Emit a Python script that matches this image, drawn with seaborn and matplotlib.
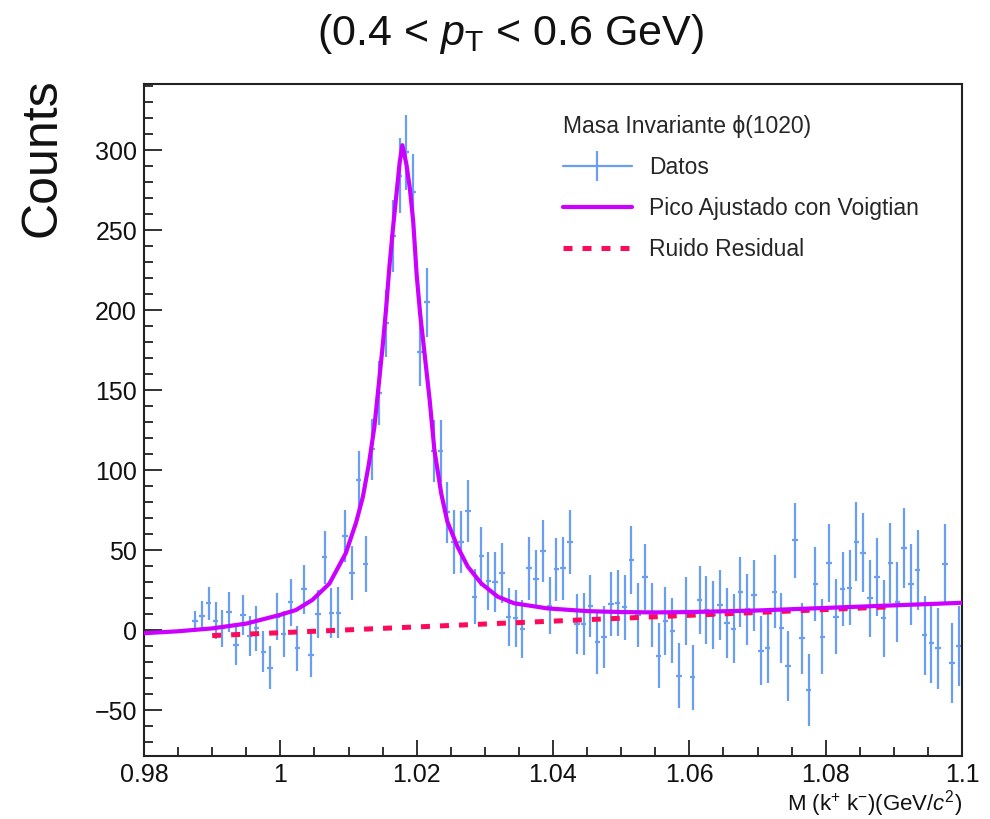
import numpy as np
import pandas as pd
import matplotlib
matplotlib.use("Agg")
import matplotlib.pyplot as plt
from matplotlib.lines import Line2D
from matplotlib.ticker import MultipleLocator, FixedLocator
import seaborn as sns

# ---------------------------
# Data
# ---------------------------
mass = [
    0.9875, 0.9885, 0.9895, 0.9905, 0.9915, 0.9925, 0.9935, 0.9945, 0.9955, 0.9965,
    0.9975, 0.9985, 0.9995, 1.0005, 1.0015, 1.0025, 1.0035, 1.0045, 1.0055, 1.0065,
    1.0075, 1.0085, 1.0095, 1.0105, 1.0115, 1.0125, 1.0135, 1.0145, 1.0155, 1.0165,
    1.0175, 1.0185, 1.0195, 1.0205, 1.0215, 1.0225, 1.0235, 1.0245, 1.0255, 1.0265,
    1.0275, 1.0285, 1.0295, 1.0305, 1.0315, 1.0325, 1.0335, 1.0345, 1.0355, 1.0365,
    1.0375, 1.0385, 1.0395, 1.0405, 1.0415, 1.0425, 1.0435, 1.0445, 1.0455, 1.0465,
    1.0475, 1.0485, 1.0495, 1.0505, 1.0515, 1.0525, 1.0535, 1.0545, 1.0555, 1.0565,
    1.0575, 1.0585, 1.0595, 1.0605, 1.0615, 1.0625, 1.0635, 1.0645, 1.0655, 1.0665,
    1.0675, 1.0685, 1.0695, 1.0705, 1.0715, 1.0725, 1.0735, 1.0745, 1.0755, 1.0765,
    1.0775, 1.0785, 1.0795, 1.0805, 1.0815, 1.0825, 1.0835, 1.0845, 1.0855, 1.0865,
    1.0875, 1.0885, 1.0895, 1.0905, 1.0915, 1.0925, 1.0935, 1.0945, 1.0955, 1.0965,
    1.0975, 1.0985, 1.0995,
]
counts = [
    5.6, 9.0, 16.7, 5.8, 1.0, 11.0, -9.4, 9.4, -4.0, 1.0,
    -13.5, -23.5, 8.3, -2.5, 17.3, -11.5, 25.4, -15.6, 9.8, 45.4,
    10.4, 10.8, 58.8, 35.4, 94.0, 41.5, 113.0, 148.0, 191.7, 246.5,
    284.0, 298.5, 274.0, 173.5, 204.8, 112.0, 112.0, 73.5, 55.0, 55.0,
    74.6, 20.8, 46.0, 30.6, 30.0, 35.4, 7.9, 7.3, 0.6, 38.5,
    31.7, 49.6, 15.2, 38.0, 38.5, 54.8, 3.8, 3.8, 15.0, -7.7,
    -4.2, 16.3, 16.7, 14.2, 43.8, 9.4, 33.3, 9.6, -16.0, 5.8,
    -0.4, -28.5, 12.0, -29.6, 19.0, 12.5, 9.4, 15.6, 4.2, 0.8,
    23.8, 13.0, 21.7, -13.0, -11.5, 24.0, 1.0, -22.3, 56.0, -5.2,
    -37.5, 29.0, -4.2, 41.7, 8.3, 25.6, 26.5, 55.2, 48.3, 19.8,
    33.3, 7.3, 42.0, 17.5, 51.0, 28.5, 37.5, -3.3, -8.3, -11.5,
    41.0, -20.6, -10.0,
]
errors = [
    6.0, 9.2, 10.4, 11.7, 11.7, 12.5, 12.5, 12.3, 12.5, 14.0,
    13.0, 13.5, 14.6, 14.4, 14.8, 14.0, 15.4, 14.0, 15.0, 16.7,
    15.6, 16.0, 16.3, 16.9, 18.0, 17.5, 19.0, 20.0, 21.0, 22.5,
    23.4, 23.4, 23.4, 21.3, 21.5, 19.5, 19.5, 19.3, 20.0, 19.5,
    19.3, 17.2, 18.2, 18.2, 18.8, 18.8, 18.2, 18.0, 18.0, 19.8,
    18.2, 19.3, 17.7, 19.6, 19.8, 20.0, 19.0, 19.2, 19.6, 19.5,
    19.5, 19.8, 20.6, 20.3, 21.0, 20.2, 20.5, 20.0, 20.3, 21.3,
    20.4, 20.3, 21.3, 20.3, 21.3, 21.3, 21.4, 21.9, 21.9, 21.7,
    21.9, 22.2, 22.1, 21.6, 21.9, 22.6, 21.9, 21.9, 23.4, 22.1,
    22.2, 23.1, 23.4, 24.3, 23.3, 23.4, 23.2, 24.7, 24.8, 24.0,
    24.5, 24.0, 25.0, 24.7, 25.0, 25.2, 25.0, 24.7, 25.0, 25.3,
    25.2, 25.2, 25.2,
]

# Voigtian fit curve
fit_mass = [
    0.980, 0.985, 0.990, 0.995, 1.000, 1.0023, 1.0047, 1.0072, 1.0096, 1.0111,
    1.0121, 1.0130, 1.0138, 1.0145, 1.0150, 1.0155, 1.0160, 1.0165, 1.0170, 1.0175,
    1.0179, 1.0185, 1.0190, 1.0195, 1.0200, 1.0205, 1.0211, 1.0219, 1.0226, 1.0236,
    1.0245, 1.0260, 1.0275, 1.0295, 1.0319, 1.0343, 1.0392, 1.045, 1.050, 1.055,
    1.060, 1.070, 1.080, 1.090, 1.100,
]
fit_counts = [
    -2.0, -0.8, 1.0, 4.0, 9.5, 12.5, 18.8, 29.0, 48.0, 67.0,
    83.0, 104.0, 127.0, 156.0, 177.0, 200.0, 227.0, 250.0, 271.0, 292.0,
    303.0, 291.0, 276.0, 255.0, 222.0, 198.0, 175.0, 144.0, 112.5, 85.4,
    67.7, 52.0, 39.6, 29.0, 20.8, 16.7, 13.5, 11.8, 11.2, 11.0,
    11.2, 12.2, 13.8, 15.4, 17.0,
]

# residual background line
bkg_mass = [0.990, 1.090]
bkg_counts = [-3.5, 14.6]

data_color = "#6a9ef2"
fit_color = "#cc00ff"
bkg_color = "#ff0a5a"

# ---------------------------
# Style
# ---------------------------
sns.set_theme(style="ticks")
plt.rcParams["font.family"] = ["Liberation Sans", "DejaVu Sans"]
plt.rcParams["mathtext.fontset"] = "custom"
plt.rcParams["mathtext.rm"] = "Liberation Sans"
plt.rcParams["mathtext.it"] = "Liberation Sans:italic"

fig = plt.figure(figsize=(9.9, 8.19), dpi=100)
ax = fig.add_axes([144 / 990, 1 - 756 / 819, (962 - 144) / 990, (756 - 84) / 819])

# data points with error bars
ax.errorbar(mass, counts, yerr=errors, xerr=0.0004, fmt="none",
            ecolor=data_color, elinewidth=1.6, capsize=0, zorder=2)

# background and fit curves
bkg = pd.DataFrame({"mass": bkg_mass, "counts": bkg_counts})
fit = pd.DataFrame({"mass": fit_mass, "counts": fit_counts})
sns.lineplot(data=bkg, x="mass", y="counts", ax=ax, color=bkg_color,
             lw=3.6, zorder=3)
ax.lines[-1].set_dashes([1.8, 2.0])
sns.lineplot(data=fit, x="mass", y="counts", ax=ax, color=fit_color,
             lw=3.0, zorder=4, sort=False)

ax.set_xlim(0.98, 1.1)
ax.set_ylim(-78.75, 341.25)
ax.set_xlabel("")
ax.set_ylabel("")

ax.xaxis.set_major_locator(FixedLocator([0.98, 1.0, 1.02, 1.04, 1.06, 1.08, 1.1]))
ax.set_xticklabels(["0.98", "1", "1.02", "1.04", "1.06", "1.08", "1.1"])
ax.xaxis.set_minor_locator(MultipleLocator(0.005))
ax.yaxis.set_major_locator(MultipleLocator(50))
ax.yaxis.set_minor_locator(MultipleLocator(10))

ax.tick_params(axis="both", which="both", direction="in", top=False, right=False,
               colors="#222222", width=1.3, labelsize=18, labelcolor="#111111")
ax.tick_params(axis="y", which="major", length=13, pad=5)
ax.tick_params(axis="y", which="minor", length=6.5)
ax.tick_params(axis="x", which="major", length=11.5, pad=5)
ax.tick_params(axis="x", which="minor", length=6.5)
for side in ["left", "right", "top", "bottom"]:
    ax.spines[side].set_visible(True)
    ax.spines[side].set_linewidth(1.5)
    ax.spines[side].set_color("#222222")

# texts
fig.text(510 / 990, 1 - 34 / 819, r"(0.4 < $p_{\mathrm{T}}$ < 0.6 GeV)",
         ha="center", va="center", fontsize=31, color="#111111")
fig.text(43 / 990, 1 - 78 / 819, "Counts", rotation=90, ha="center", va="top",
         fontsize=36, color="#111111")
fig.text(962 / 990, 1 - 804 / 819, r"M (k$^{+}$ k$^{-}$)(GeV/$c^{2}$)",
         ha="right", va="center", fontsize=16, color="#111111")

# legend
handles = [
    Line2D([], [], color=data_color, lw=1.6, marker="|", markersize=22,
           markeredgewidth=1.6),
    Line2D([], [], color=fit_color, lw=3.0),
    Line2D([], [], color=bkg_color, lw=3.6, dashes=[1.8, 2.0]),
]
labels = ["Datos", "Pico Ajustado con Voigtian", "Ruido Residual"]
leg = fig.legend(handles, labels, title="Masa Invariante \u03d5(1020)",
                 loc="upper left", bbox_to_anchor=(563 / 990, 1 - 115 / 819),
                 frameon=False, fontsize=16.5, title_fontsize=16.5,
                 handlelength=3.0, handletextpad=0.75, labelspacing=0.78,
                 borderpad=0, borderaxespad=0, alignment="left")

plt.savefig("out.png", dpi=100)
plt.close()
